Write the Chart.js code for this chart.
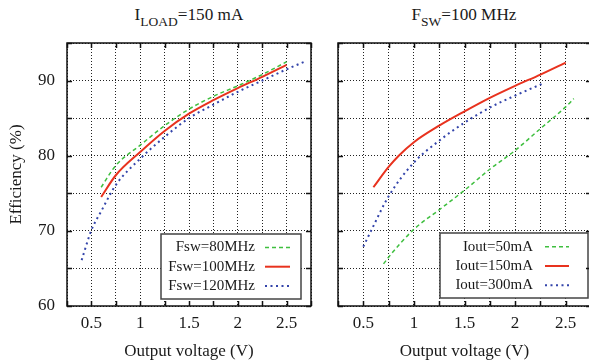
<!DOCTYPE html>
<html>
<head>
<meta charset="utf-8">
<script src="https://cdn.jsdelivr.net/npm/chart.js@4"></script>
<style>
  html, body { margin: 0; padding: 0; background: #fff; overflow: hidden; }
  body { width: 589px; height: 364px; position: relative; font-family: "Liberation Serif", serif; }
  canvas { position: absolute; top: 0; }
  #leftChart { left: 0; }
  #rightChart { left: 300px; }
  .ttl { position: absolute; top: 6px; font-size: 17.2px; line-height: 17px; color: #1a1a1a; white-space: nowrap; transform: translateX(-50%); }
  .ttl sub { font-size: 13.5px; line-height: 0; vertical-align: -6px; }
</style>
</head>
<body>
<div class="ttl" style="left:189px">I<sub>LOAD</sub>=150 mA</div>
<div class="ttl" style="left:464px">F<sub>SW</sub>=100 MHz</div>
<canvas id="leftChart" width="330" height="364"></canvas>
<canvas id="rightChart" width="300" height="364"></canvas>
<script>
// left panel: I_LOAD = 150 mA, different switching frequencies
const fswLabels = ["Fsw=80MHz", "Fsw=100MHz", "Fsw=120MHz"];
const volt80 = [0.6, 0.75, 1.0, 1.25, 1.5, 1.75, 2.0, 2.25, 2.5];
const eff80 = [75.8, 78.7, 81.4, 84.0, 86.2, 87.9, 89.3, 90.8, 92.5];
const volt100 = [0.6, 0.75, 1.0, 1.25, 1.5, 1.75, 2.0, 2.25, 2.5];
const eff100 = [74.5, 77.4, 80.5, 83.3, 85.6, 87.4, 89.0, 90.5, 92.1];
const volt120 = [0.4, 0.5, 0.6, 0.75, 1.0, 1.25, 1.5, 1.75, 2.0, 2.25, 2.5, 2.7];
const eff120 = [66.1, 70.1, 72.6, 76.1, 79.6, 82.5, 85.0, 86.8, 88.5, 90.0, 91.5, 92.6];

// right panel: F_SW = 100 MHz, different load currents
const ioutLabels = ["Iout=50mA", "Iout=150mA", "Iout=300mA"];
const volt50 = [0.7, 0.75, 1.0, 1.25, 1.5, 1.75, 2.0, 2.25, 2.5, 2.58];
const eff50 = [65.6, 66.5, 70.2, 72.8, 75.4, 78.2, 80.7, 83.6, 86.5, 87.6];
const volt150 = [0.6, 0.75, 0.85, 1.0, 1.25, 1.5, 1.75, 2.0, 2.25, 2.5];
const eff150 = [75.8, 78.5, 80.0, 81.8, 84.0, 85.9, 87.7, 89.3, 90.8, 92.4];
const volt300 = [0.5, 0.58, 0.75, 1.0, 1.25, 1.5, 1.75, 2.0, 2.29];
const eff300 = [67.9, 70.1, 74.6, 79.1, 82.0, 84.4, 86.4, 88.0, 89.7];

const xTickLabels = ["0.5", "1", "1.5", "2", "2.5"];
const yTickLabels = ["60", "70", "80", "90"];

Chart.defaults.font.family = '"Liberation Serif", serif';
Chart.defaults.color = "#1a1a1a";

const GREEN = "#3fbf3f", RED = "#e8321e", BLUE = "#3344aa";

// border box + small inward ticks, gnuplot style
const frame = {
  id: "frame",
  afterDraw(chart) {
    const { ctx, chartArea: a, scales } = chart;
    ctx.save();
    ctx.strokeStyle = "#111";
    ctx.lineWidth = 1.5;
    ctx.setLineDash([]);
    ctx.beginPath();
    scales.x.ticks.forEach(t => {
      const px = Math.round(scales.x.getPixelForValue(t.value)) + 0.5;
      ctx.moveTo(px, a.bottom); ctx.lineTo(px, a.bottom - 5);
      ctx.moveTo(px, a.top); ctx.lineTo(px, a.top + 5);
    });
    scales.y.ticks.forEach(t => {
      const py = Math.round(scales.y.getPixelForValue(t.value)) + 0.5;
      ctx.moveTo(a.left, py); ctx.lineTo(a.left + 5, py);
      ctx.moveTo(a.right, py); ctx.lineTo(a.right - 5, py);
    });
    ctx.stroke();
    ctx.strokeRect(a.left, a.top, a.right - a.left, a.bottom - a.top);
    ctx.restore();
  }
};

// key box: text right aligned, line sample on the right
const keyBox = {
  id: "keyBox",
  afterDatasetsDraw(chart, args, o) {
    const ctx = chart.ctx;
    ctx.save();
    ctx.fillStyle = "#fff";
    ctx.fillRect(o.x, o.y, o.w, o.h);
    ctx.strokeStyle = "#444";
    ctx.lineWidth = 1.5;
    ctx.strokeRect(o.x, o.y, o.w, o.h);
    ctx.font = '15px "Liberation Serif"';
    ctx.textAlign = "right";
    ctx.textBaseline = "middle";
    chart.data.datasets.forEach((ds, i) => {
      const yy = o.y + o.row0 + i * o.rowGap;
      ctx.fillStyle = "#1a1a1a";
      ctx.fillText(ds.label, o.x + o.textRight, yy);
      ctx.strokeStyle = ds.borderColor;
      ctx.lineWidth = ds.borderWidth;
      ctx.setLineDash(ds.borderDash || []);
      ctx.beginPath();
      ctx.moveTo(o.x + o.s1, yy);
      ctx.lineTo(o.x + o.s2, yy);
      ctx.stroke();
    });
    ctx.restore();
  }
};

function series(label, xs, ys, color, width, dash) {
  return {
    label: label,
    data: xs.map((v, i) => ({ x: v, y: ys[i] })),
    borderColor: color,
    borderWidth: width,
    borderDash: dash,
    pointRadius: 0,
    fill: false,
    cubicInterpolationMode: "monotone"
  };
}

function panel(id, datasets, yWidth, padRight, showY, key) {
  return new Chart(document.getElementById(id), {
    type: "line",
    data: { datasets: datasets },
    options: {
      responsive: false,
      animation: false,
      layout: { padding: { top: 43, right: padRight, left: 0, bottom: 0 } },
      plugins: { legend: { display: false }, tooltip: { enabled: false }, keyBox: key },
      scales: {
        x: {
          type: "linear",
          min: 0.25,
          max: 2.75,
          afterFit(s) { s.height = 58; },
          border: { display: false, dash: [1, 2] },
          grid: { color: "#222", lineWidth: 1, drawTicks: false },
          ticks: {
            stepSize: 0.25,
            autoSkip: false,
            maxRotation: 0,
            padding: 7,
            font: { size: 17 },
            callback(v) {
              const s = String(Math.round(v * 4) / 4);
              return xTickLabels.includes(s) ? s : "";
            }
          },
          title: { display: true, text: "Output voltage (V)", font: { size: 17 }, padding: { top: 0, bottom: 2 } }
        },
        y: {
          min: 60,
          max: 95,
          afterFit(s) { s.width = yWidth; },
          border: { display: false, dash: [1, 2] },
          grid: { color: "#222", lineWidth: 1, drawTicks: false },
          ticks: {
            stepSize: 5,
            display: showY,
            padding: 12,
            font: { size: 17 },
            callback(v) {
              const s = String(v);
              return yTickLabels.includes(s) ? s : "";
            }
          },
          title: { display: showY, text: "Efficiency (%)", font: { size: 17 }, padding: { top: 6, bottom: 0 } }
        }
      }
    },
    plugins: [keyBox, frame]
  });
}

panel("leftChart", [
  series(fswLabels[0], volt80, eff80, GREEN, 1.5, [4, 3]),
  series(fswLabels[1], volt100, eff100, RED, 2, []),
  series(fswLabels[2], volt120, eff120, BLUE, 2, [2, 3.5])
], 67, 19, true, { x: 161, y: 234, w: 140, h: 65, textRight: 94, s1: 104, s2: 129, row0: 13.5, rowGap: 19.2 });

panel("rightChart", [
  series(ioutLabels[0], volt50, eff50, GREEN, 1.5, [4, 3]),
  series(ioutLabels[1], volt150, eff150, RED, 2, []),
  series(ioutLabels[2], volt300, eff300, BLUE, 2, [2, 3.5])
], 38, 9, false, { x: 140, y: 233, w: 148, h: 65, textRight: 93, s1: 105, s2: 129, row0: 13.7, rowGap: 19.3 });
</script>
</body>
</html>
